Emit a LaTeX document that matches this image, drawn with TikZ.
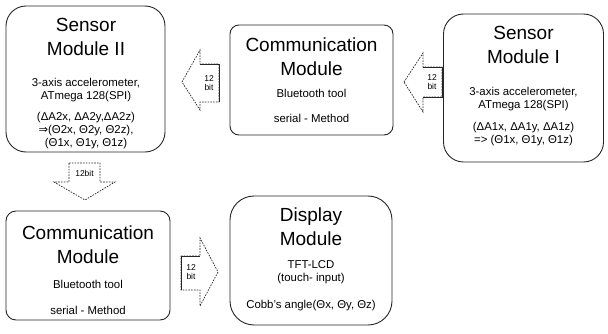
\documentclass[tikz,border=0pt]{standalone}
\usepackage{fontspec}
\setmainfont{Liberation Sans}
\newfontfamily\symbfont{DejaVu Sans}
\usetikzlibrary{positioning}

\begin{document}
\begin{tikzpicture}[x=1pt, y=-1pt,
    modbox/.style={draw=black!85, line width=0.9pt, rounded corners=#1, inner sep=0pt},
    modtitle/.style={anchor=north, inner sep=0pt, align=center, font=\fontsize{19}{24}\selectfont},
    moddetail/.style={anchor=north, inner sep=0pt, align=center, font=\fontsize{11.4}{13}\selectfont},
    bitlabel/.style={inner sep=0pt, align=center, font=\fontsize{8.5}{9.5}\selectfont},
    bitarrow/.style={draw=black!85, line width=0.7pt, dash pattern=on 1.6pt off 1.2pt},
    bitedge/.style={draw=black!85, line width=0.8pt}]
\useasboundingbox (0,0) rectangle (608,334);

% modules
\node[modbox=20, minimum width=159, minimum height=146] (s2) at (85.5,79) {};
\node[modbox=9, minimum width=163, minimum height=110] (c1) at (311.5,80) {};
\node[modbox=20, minimum width=160, minimum height=148] (s1) at (523.5,88) {};
\node[modbox=10, minimum width=164, minimum height=109] (c2) at (88,265.5) {};
\node[modbox=24, minimum width=162, minimum height=129] (dm) at (311,260.5) {};

% texts
\node[modtitle] (s2t) at (86,18) {Sensor\\Module II};
\node[moddetail] (s2d) at (86,78) {3-axis accelerometer,\\ATmega 128(SPI)\\[8pt]
    (ΔA2x, ΔA2y,ΔA2z)\\{\symbfont ⇒}(Θ2x, Θ2y, Θ2z),\\(Θ1x, Θ1y, Θ1z)};
\node[modtitle] (c1t) at (311.5,38) {Communication\\Module};
\node[moddetail] (c1d) at (311.5,89) {Bluetooth tool\\[12pt]serial - Method};
\node[modtitle] (s1t) at (523.5,26) {Sensor\\Module I};
\node[moddetail] (s1d) at (523.5,87) {3-axis accelerometer,\\ATmega 128(SPI)\\[9pt]
    (ΔA1x, ΔA1y, ΔA1z)\\=> (Θ1x, Θ1y, Θ1z)};
\node[modtitle] (c2t) at (88,226) {Communication\\Module};
\node[moddetail] (c2d) at (88,280) {Bluetooth tool\\[13pt]serial - Method};
\node[modtitle] (dmt) at (311,208) {Display\\Module};
\node[moddetail] (dmd) at (311,260) {TFT-LCD\\(touch- input)\\[14pt]Cobb's angle(Θx, Θy, Θz)};

% 12 bit arrows
\node[bitlabel] (a1) at (209,83) {12\\bit};
\draw[bitarrow] (182,82) -- (200,50) -- (200,64) -- (219,64) -- (219,102) -- (200,102) -- (200,110) -- cycle;
\draw[bitedge] (200,64) -- (219,64) -- (219,102);

\node[bitlabel] (a2) at (432,82) {12\\bit};
\draw[bitarrow] (404,82) -- (423,53) -- (423,67) -- (442,67) -- (442,97) -- (423,97) -- (423,112) -- cycle;
\draw[bitedge] (423,67) -- (442,67) -- (442,97) -- (423,97);

\node[bitlabel] (a3) at (84.5,173) {12bit};
\draw[bitarrow] (69,163) -- (100,163) -- (100,182) -- (115,182) -- (85,200) -- (54,182) -- (69,182) -- cycle;

\node[bitlabel] (a4) at (191,272) {12\\bit};
\draw[bitarrow] (181,256) -- (200,256) -- (200,238) -- (218,272) -- (200,306) -- (200,290) -- (181,290) -- cycle;
\draw[bitedge] (181,290) -- (181,256) -- (200,256);
\end{tikzpicture}
\end{document}
